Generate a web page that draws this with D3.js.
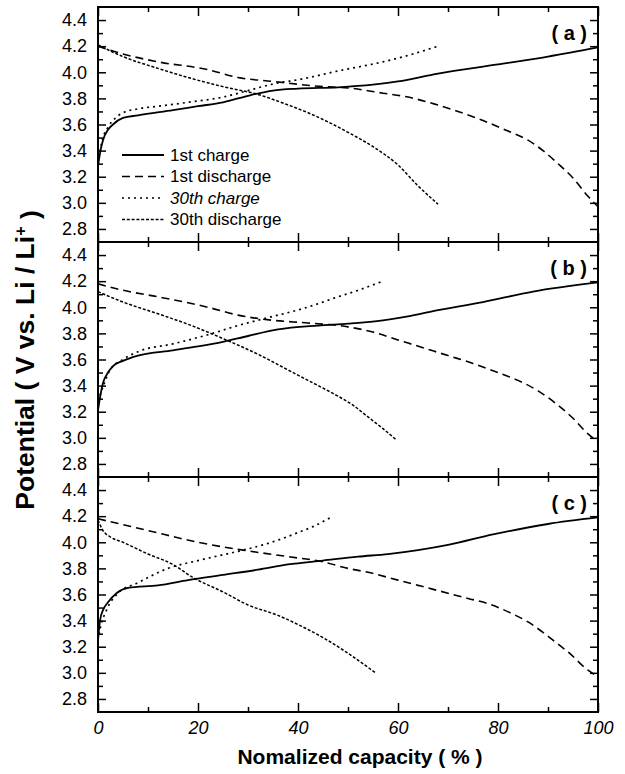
<!DOCTYPE html>
<html>
<head>
<meta charset="utf-8">
<script src="https://cdn.jsdelivr.net/npm/d3@7"></script>
<style>
  body { margin: 0; background: #fff; }
  text { font-family: "Liberation Sans", Arial, sans-serif; }
</style>
</head>
<body>
<script>

// tick values and labels
var xTicks = [0, 20, 40, 60, 80, 100];
var xMinor = [10, 30, 50, 70, 90];
var yTicks = [2.8, 3.0, 3.2, 3.4, 3.6, 3.8, 4.0, 4.2, 4.4];
var yMinor = [2.9, 3.1, 3.3, 3.5, 3.7, 3.9, 4.1, 4.3];
var panelLabels = ["( a )", "( b )", "( c )"];
var seriesNames = ["1st charge", "1st discharge", "30th charge", "30th discharge"];

// panel (a)  [capacity %, potential V]
var charge1A = [[0,3.28],[0.5,3.4],[1,3.48],[2,3.56],[3,3.6],[5,3.65],[8,3.67],[15,3.71],[20,3.74],[25,3.77],[30,3.82],[35,3.86],[40,3.875],[48,3.885],[55,3.905],[60,3.93],[68,3.99],[80,4.06],[90,4.12],[100,4.19]];
var discharge1A = [[0,4.2],[5,4.14],[12,4.08],[22,4.02],[28,3.96],[35,3.93],[45,3.89],[50,3.88],[57,3.84],[62,3.81],[67,3.76],[72,3.7],[77,3.63],[82,3.55],[86,3.48],[89,3.4],[92,3.3],[95,3.19],[98,3.05],[100,2.97]];
var charge30A = [[0,3.3],[0.5,3.42],[1,3.5],[2,3.58],[3.5,3.65],[5,3.69],[8,3.72],[12,3.74],[18,3.77],[25,3.81],[30,3.86],[35,3.91],[41,3.95],[48,4.01],[57,4.08],[63,4.14],[68,4.2]];
var discharge30A = [[0,4.21],[5,4.12],[12,4.03],[18,3.96],[25,3.89],[32,3.83],[38,3.75],[42,3.69],[46,3.62],[50,3.54],[55,3.43],[60,3.29],[64,3.13],[68,2.99]];

// panel (b)
var charge1B = [[0,3.21],[0.5,3.33],[1,3.42],[2,3.5],[3,3.55],[5,3.59],[8,3.63],[15,3.67],[20,3.7],[25,3.735],[30,3.78],[36,3.83],[44,3.86],[50,3.875],[57,3.9],[62,3.93],[67,3.97],[77,4.04],[87,4.12],[100,4.19]];
var discharge1B = [[0,4.18],[5,4.13],[12,4.08],[22,4.0],[28,3.94],[35,3.9],[42,3.88],[50,3.85],[55,3.81],[60,3.75],[65,3.69],[70,3.63],[75,3.57],[80,3.5],[84,3.44],[88,3.36],[92,3.25],[95,3.15],[98,3.03],[100,2.97]];
var charge30B = [[0,3.28],[1,3.39],[2.4,3.52],[5,3.6],[8,3.66],[15,3.72],[22,3.79],[28,3.86],[35,3.93],[41,3.99],[48,4.08],[52,4.13],[57,4.2]];
var discharge30B = [[0,4.12],[5,4.04],[12,3.95],[18,3.87],[25,3.76],[32,3.64],[38,3.52],[42,3.44],[47,3.34],[51,3.25],[54,3.16],[57,3.07],[59.5,2.99]];

// panel (c)
var charge1C = [[0,3.25],[0.4,3.4],[1,3.48],[2,3.54],[3.7,3.61],[6,3.65],[12,3.67],[18,3.71],[25,3.75],[32,3.79],[38,3.83],[45,3.86],[52,3.89],[58,3.91],[64,3.94],[70,3.98],[79,4.06],[90,4.14],[100,4.19]];
var discharge1C = [[0,4.18],[10,4.09],[20,4.0],[29,3.94],[38,3.89],[45,3.85],[50,3.8],[54,3.77],[60,3.71],[64,3.67],[70,3.61],[74,3.57],[78,3.53],[83,3.45],[86,3.39],[89,3.31],[92,3.22],[94,3.16],[98,3.02],[100,2.97]];
var charge30C = [[0,3.25],[0.5,3.35],[1.7,3.48],[4,3.61],[8,3.69],[14,3.8],[20,3.86],[29,3.94],[33,3.98],[37,4.03],[40,4.075],[43,4.12],[46.5,4.19]];
var discharge30C = [[0,4.17],[1,4.09],[2.5,4.04],[5,4.0],[10,3.91],[15,3.83],[19,3.73],[25,3.62],[30,3.52],[36,3.44],[40,3.37],[45,3.27],[50,3.15],[55.5,3.0]];

var panelSeries = [
	[charge1A, discharge1A, charge30A, discharge30A],
	[charge1B, discharge1B, charge30B, discharge30B],
	[charge1C, discharge1C, charge30C, discharge30C]
];

// line look per series (solid, long dash, dots, fine dash)
var dashes = [null, "8,5", "2,4", "3,1.8"];
var widths = [1.8, 1.6, 1.7, 1.5];

var width = 625;
var height = 774;
var margin = { top: 7, left: 98, right: 27 };
var panelH = 235;

var svg = d3.select("body")
	.append("svg")
	.attr("width", width)
	.attr("height", height);

var xScale = d3.scaleLinear()
	.domain([0, 100])
	.range([margin.left, width - margin.right]);

var line = d3.line()
	.curve(d3.curveMonotoneX)
	.x(function(d) { return xScale(d[0]); });

function cleanAxis(g) {
	g.select(".domain").remove();
	g.selectAll(".tick line").attr("stroke-width", 1.5);
}

panelSeries.forEach(function(series, i) {
	var top = margin.top + i * panelH;
	var yScale = d3.scaleLinear()
		.domain([2.7, 4.5])
		.range([top + panelH, top]);
	line.y(function(d) { return yScale(d[1]); });

	// left ticks with labels, right ticks without
	svg.append("g")
		.attr("transform", `translate(${margin.left},0)`)
		.call(d3.axisLeft(yScale).tickValues(yTicks).tickSize(-8).tickPadding(11).tickFormat(d3.format(".1f")))
		.call(cleanAxis)
		.attr("font-size", 18)
		.attr("font-family", "Liberation Sans, Arial, sans-serif");
	svg.append("g")
		.attr("transform", `translate(${margin.left},0)`)
		.call(d3.axisLeft(yScale).tickValues(yMinor).tickSize(-5).tickFormat(""))
		.call(cleanAxis);
	svg.append("g")
		.attr("transform", `translate(${width - margin.right},0)`)
		.call(d3.axisRight(yScale).tickValues(yTicks).tickSize(-8).tickFormat(""))
		.call(cleanAxis);
	svg.append("g")
		.attr("transform", `translate(${width - margin.right},0)`)
		.call(d3.axisRight(yScale).tickValues(yMinor).tickSize(-5).tickFormat(""))
		.call(cleanAxis);

	// top and bottom ticks point inward
	svg.append("g")
		.attr("transform", `translate(0,${top})`)
		.call(d3.axisTop(xScale).tickValues(xTicks).tickSize(-9).tickFormat(""))
		.call(cleanAxis);
	svg.append("g")
		.attr("transform", `translate(0,${top})`)
		.call(d3.axisTop(xScale).tickValues(xMinor).tickSize(-5).tickFormat(""))
		.call(cleanAxis);
	var bottom = svg.append("g")
		.attr("transform", `translate(0,${top + panelH})`)
		.call(d3.axisBottom(xScale).tickValues(xTicks).tickSize(-9).tickPadding(9)
			.tickFormat(i === 2 ? d3.format("d") : ""))
		.call(cleanAxis)
		.attr("font-size", 18)
		.attr("font-family", "Liberation Sans, Arial, sans-serif");
	bottom.selectAll("text").attr("font-style", "italic");
	svg.append("g")
		.attr("transform", `translate(0,${top + panelH})`)
		.call(d3.axisBottom(xScale).tickValues(xMinor).tickSize(-5).tickFormat(""))
		.call(cleanAxis);

	// curves
	series.forEach(function(s, k) {
		svg.append("path")
			.datum(s)
			.attr("fill", "none")
			.attr("stroke", "#000")
			.attr("stroke-width", widths[k])
			.attr("stroke-dasharray", dashes[k])
			.attr("d", line);
	});

	// frame
	svg.append("rect")
		.attr("x", margin.left)
		.attr("y", top)
		.attr("width", width - margin.right - margin.left)
		.attr("height", panelH)
		.attr("fill", "none")
		.attr("stroke", "#000")
		.attr("stroke-width", 2);

	svg.append("text")
		.attr("x", 587)
		.attr("y", top + 33)
		.attr("text-anchor", "end")
		.style("font-size", "20px")
		.style("font-weight", "bold")
		.text(panelLabels[i]);
});

// legend in panel (a)
var legend = svg.append("g");
seriesNames.forEach(function(name, k) {
	var ly = 155 + k * 21.5;
	legend.append("line")
		.attr("x1", 122).attr("x2", 164)
		.attr("y1", ly).attr("y2", ly)
		.attr("stroke", "#000")
		.attr("stroke-width", widths[k])
		.attr("stroke-dasharray", dashes[k]);
	legend.append("text")
		.attr("x", 170)
		.attr("y", ly)
		.attr("dy", "0.35em")
		.style("font-size", "17px")
		.style("font-style", k === 2 ? "italic" : "normal")
		.text(name);
});

// axis titles
var yLabel = svg.append("text")
	.attr("transform", "translate(34,360) rotate(-90)")
	.attr("text-anchor", "middle")
	.style("font-size", "26.5px")
	.style("font-weight", "bold");
yLabel.append("tspan").text("Potential ( V vs. Li / Li");
yLabel.append("tspan").attr("dy", "-0.5em").style("font-size", "16px").text("+");
yLabel.append("tspan").attr("dy", "0.5em").text(" )");

var xLabel = svg.append("text")
	.attr("x", 360)
	.attr("y", 764)
	.attr("text-anchor", "middle")
	.style("font-size", "21px")
	.style("font-weight", "bold")
	.text("Nomalized capacity ( % )");

</script>
</body>
</html>
